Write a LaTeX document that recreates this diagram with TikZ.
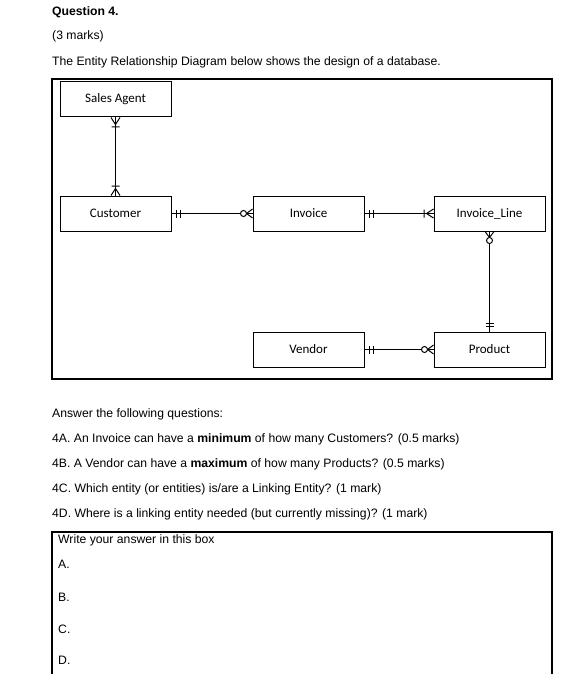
\documentclass[tikz,border=0pt]{standalone}
\usepackage{fontspec}
\setmainfont{Liberation Sans}
\newfontfamily\erfont{Carlito}
\usetikzlibrary{decorations.markings}

% crow's foot ends, drawn with the entity at (0,0) and the line coming from -x
\newcommand{\erOne}{\draw[line width=1pt] (-5pt,-4pt) -- (-5pt,4pt) (-8.5pt,-4pt) -- (-8.5pt,4pt);}
\newcommand{\erZeroMany}{\draw[line width=1pt] (0,4.5pt) -- (-6pt,0) -- (0,-4.5pt);
    \draw[line width=1pt,fill=white] (-9pt,0) circle (3pt);}
\newcommand{\erOneMany}{\draw[line width=1pt] (0,4.5pt) -- (-7pt,0) -- (0,-4.5pt) (-9.5pt,-4pt) -- (-9.5pt,4pt);}

\tikzset{
    erlink mark/.style 2 args={postaction={decorate,decoration={markings,mark=at position #1 with {#2}}}},
    from one/.style={erlink mark={0}{\begin{scope}[xscale=-1]\erOne\end{scope}}},
    from onemany/.style={erlink mark={0}{\begin{scope}[xscale=-1]\erOneMany\end{scope}}},
    from zeromany/.style={erlink mark={0}{\begin{scope}[xscale=-1]\erZeroMany\end{scope}}},
    to one/.style={erlink mark={1}{\erOne}},
    to onemany/.style={erlink mark={1}{\erOneMany}},
    to zeromany/.style={erlink mark={1}{\erZeroMany}},
}

\begin{document}
\begin{tikzpicture}[x=1pt,y=-1pt]

    \useasboundingbox (0,0) rectangle (575,674);

    \begin{scope}[every node/.style={anchor=base west,inner sep=0pt,font=\fontsize{12.2}{14}\selectfont}]
        \node (title) at (52,15.5) {\textbf{Question 4.}};
        \node (marks) at (52,40) {(3 marks)};
        \node (intro) at (52,65.5) {The Entity Relationship Diagram below shows the design of a database.};

        \node (ask) at (52,417) {Answer the following questions:};
        \node (qa) at (52,442) {4A. An Invoice can have a \textbf{minimum} of how many Customers? (0.5 marks)};
        \node (qb) at (52,467) {4B. A Vendor can have a \textbf{maximum} of how many Products? (0.5 marks)};
        \node (qc) at (52,492) {4C. Which entity (or entities) is/are a Linking Entity? (1 mark)};
        \node (qd) at (52,517) {4D. Where is a linking entity needed (but currently missing)? (1 mark)};

        \node (write) at (58,543.5) {Write your answer in this box};
        \node (ansa) at (58,568.5) {A.};
        \node (ansb) at (58,601) {B.};
        \node (ansc) at (58,633) {C.};
        \node (ansd) at (58,664.5) {D.};
    \end{scope}

    % frame of the diagram and the answer box
    \draw[line width=1.2pt] (52,79) rectangle (552,379);
    \draw[line width=1.2pt] (52,676) -- (52,532) -- (552,532) -- (552,676);

    \begin{scope}[every node/.style={draw,line width=1pt,minimum width=111pt,minimum height=35pt,font=\erfont\fontsize{13}{15}\selectfont}]
        \node (agent) at (115.5,99.5) {Sales Agent};
        \node (customer) at (115.5,213.5) {Customer};
        \node (invoice) at (308.5,213.5) {Invoice};
        \node (line) at (489.5,213.5) {Invoice\_Line};
        \node (vendor) at (308.5,349.5) {Vendor};
        \node (product) at (489.5,349.5) {Product};
    \end{scope}

    \begin{scope}[every edge/.style={draw,line width=1.6pt}]
        \path (agent) edge [from onemany,to onemany,line width=1.8pt] (customer);
        \path (customer) edge [from one,to zeromany] (invoice);
        \path (invoice) edge [from one,to onemany] (line);
        \path (line) edge [from zeromany,to one,line width=1pt] (product);
        \path (vendor) edge [from one,to zeromany,line width=1pt] (product);
    \end{scope}

\end{tikzpicture}
\end{document}
